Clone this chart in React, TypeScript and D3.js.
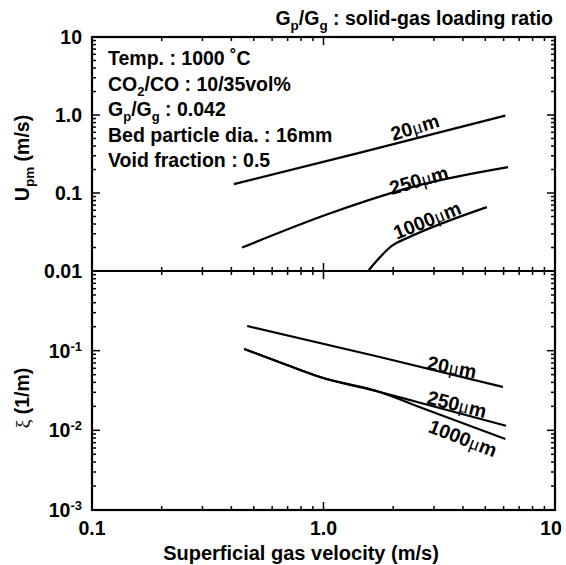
import React from 'react';
import * as d3 from 'd3';

// x axis: superficial gas velocity (m/s)
const xTicks = [0.1, 1, 10];
const xTickLabels = ['0.1', '1.0', '10'];

// upper panel: Upm (m/s)
const upmTicks = [10, 1, 0.1, 0.01];
const upmTickLabels = ['10', '1.0', '0.1', '0.01'];
// lower panel: xi (1/m)
const xiTicks = [0.1, 0.01, 0.001];
const xiTickExp = ['-1', '-2', '-3'];

const sizeLabels = ['20', '250', '1000'];

// Upm curves
const upm20V = [0.41, 1.44, 6.1];
const upm20 = [0.13, 0.33, 0.98];
const upm250V = [0.445, 1.07, 2.61, 6.27];
const upm250 = [0.02, 0.055, 0.127, 0.215];
const upm1000V = [1.57, 2.0, 2.3, 5.08];
const upm1000 = [0.0103, 0.0216, 0.0265, 0.066];

// xi curves
const xi20V = [0.468, 1.75, 5.96];
const xi20 = [0.204, 0.0834, 0.035];
const xi250V = [0.454, 0.695, 0.966, 1.75, 2.61, 6.14];
const xi250 = [0.105, 0.066, 0.0468, 0.0303, 0.0222, 0.0114];
const xi1000V = [0.454, 0.695, 0.966, 1.75, 2.61, 6.1];
const xi1000 = [0.105, 0.066, 0.0468, 0.0303, 0.0195, 0.0078];

// label anchor positions (data coords) and rotation
const upmLabelV = [2.48, 2.58, 2.8];
const upmLabelY = [0.7, 0.147, 0.045];
const upmLabelRot = [-17, -16, -22];
const xiLabelV = [3.59, 3.77, 4.0];
const xiLabelY = [0.0625, 0.0214, 0.008];
const xiLabelRot = [11, 14, 21];

const notes = ['Temp. : 1000 ˚C', 'CO2/CO : 10/35vol%', 'Gp/Gg : 0.042', 'Bed particle dia. : 16mm', 'Void fraction : 0.5'];

const W = 566;
const H = 565;
const LEFT = 92, RIGHT = 555, TOP = 37, MID = 271, BOTTOM = 510;
const FONT = '"Liberation Sans", Arial, Helvetica, sans-serif';

const x = d3.scaleLog().domain([0.1, 10]).range([LEFT, RIGHT]);
const yTop = d3.scaleLog().domain([0.01, 10]).range([MID, TOP]);
const yBot = d3.scaleLog().domain([0.001, 1]).range([BOTTOM, MID]);

const zip = (a: number[], b: number[]) => a.map((v, i) => [v, b[i]] as [number, number]);

const isMajor = (v: number) => Math.abs(Math.log10(v) - Math.round(Math.log10(v))) < 1e-6;

const Mu = ({ n }: { n: string }) => (
  <>
    {n}
    <tspan fontFamily='"Liberation Serif", serif' fontWeight="normal">μ</tspan>m
  </>
);

const renderNote = (s: string) => {
  if (s.startsWith('CO2')) {
    return (<>CO<tspan fontSize={13} dy={5}>2</tspan><tspan dy={-5}>/CO : 10/35vol%</tspan></>);
  }
  if (s.startsWith('Gp/Gg')) {
    return (<>G<tspan fontSize={13} dy={5}>p</tspan><tspan dy={-5}>/G</tspan><tspan fontSize={13} dy={5}>g</tspan><tspan dy={-5}> : 0.042</tspan></>);
  }
  return s;
};

const App = () => {
  const xt = x.ticks();
  const ytT = yTop.ticks();
  const ybT = yBot.ticks();

  const lineTop = d3.line<[number, number]>().x(d => x(d[0])).y(d => yTop(d[1])).curve(d3.curveMonotoneX);
  const lineBot = d3.line<[number, number]>().x(d => x(d[0])).y(d => yBot(d[1])).curve(d3.curveMonotoneX);

  const topSeries = [zip(upm20V, upm20), zip(upm250V, upm250), zip(upm1000V, upm1000)];
  const botSeries = [zip(xi20V, xi20), zip(xi250V, xi250), zip(xi1000V, xi1000)];

  return (
    <svg width={W} height={H} style={{ position: 'absolute', left: 0, top: 0, background: '#fff' }}
      fontFamily={FONT} fontWeight="bold">
      <rect x={0} y={0} width={W} height={H} fill="#fff" />

      {/* title */}
      <text x={553} y={25} fontSize={19.5} textAnchor="end">
        G<tspan fontSize={13.5} dy={5}>p</tspan><tspan dy={-5}>/G</tspan><tspan fontSize={13.5} dy={5}>g</tspan><tspan dy={-5}> : solid-gas loading ratio</tspan>
      </text>

      {/* ticks on x edges */}
      {xt.map((v, i) => {
        const len = isMajor(v) ? 8 : 4;
        return (
          <g key={'xt' + i} stroke="#000" strokeWidth={1.5}>
            <line x1={x(v)} x2={x(v)} y1={TOP} y2={TOP + len} />
            <line x1={x(v)} x2={x(v)} y1={MID - len} y2={MID + len} />
            <line x1={x(v)} x2={x(v)} y1={BOTTOM} y2={BOTTOM - len} />
          </g>
        );
      })}
      {ytT.map((v, i) => {
        const len = isMajor(v) ? 8 : 4;
        return (
          <g key={'yt' + i} stroke="#000" strokeWidth={1.5}>
            <line x1={LEFT} x2={LEFT + len} y1={yTop(v)} y2={yTop(v)} />
            <line x1={RIGHT} x2={RIGHT - len} y1={yTop(v)} y2={yTop(v)} />
          </g>
        );
      })}
      {ybT.map((v, i) => {
        const len = isMajor(v) ? 8 : 4;
        return (
          <g key={'yb' + i} stroke="#000" strokeWidth={1.5}>
            <line x1={LEFT} x2={LEFT + len} y1={yBot(v)} y2={yBot(v)} />
            <line x1={RIGHT} x2={RIGHT - len} y1={yBot(v)} y2={yBot(v)} />
          </g>
        );
      })}

      {/* frames */}
      <rect x={LEFT} y={TOP} width={RIGHT - LEFT} height={BOTTOM - TOP} fill="none" stroke="#000" strokeWidth={2.2} />
      <line x1={LEFT} x2={RIGHT} y1={MID} y2={MID} stroke="#000" strokeWidth={2.2} />

      {/* tick labels */}
      {upmTicks.map((v, i) => (
        <text key={'ul' + i} x={82} y={yTop(v) + 7} fontSize={19.5} textAnchor="end">{upmTickLabels[i]}</text>
      ))}
      {xiTicks.map((v, i) => (
        <text key={'xl' + i} x={82} y={yBot(v) + 7} fontSize={19.5} textAnchor="end">
          10<tspan fontSize={13} dy={-7}>{xiTickExp[i]}</tspan>
        </text>
      ))}
      {xTicks.map((v, i) => (
        <text key={'xtl' + i} x={x(v) - (i === 2 ? 4 : 0)} y={535} fontSize={19.5} textAnchor="middle">{xTickLabels[i]}</text>
      ))}

      {/* axis titles */}
      <text x={301} y={560} fontSize={20} textAnchor="middle">Superficial gas velocity (m/s)</text>
      <text transform="translate(29,158) rotate(-90)" fontSize={19.5} textAnchor="middle">
        U<tspan fontSize={13.5} dy={5}>pm</tspan><tspan dy={-5}> (m/s)</tspan>
      </text>
      <text transform="translate(29,398) rotate(-90)" fontSize={19.5} textAnchor="middle">
        <tspan fontFamily='"Liberation Serif", serif' fontWeight="normal">ξ</tspan> (1/m)
      </text>

      {/* notes */}
      {notes.map((s, i) => (
        <text key={'n' + i} x={108} y={65 + i * 25.5} fontSize={19.5}>{renderNote(s)}</text>
      ))}

      {/* curves */}
      {topSeries.map((s, i) => (
        <path key={'tp' + i} d={lineTop(s) || ''} fill="none" stroke="#000" strokeWidth={2.3} />
      ))}
      {botSeries.map((s, i) => (
        <path key={'bp' + i} d={lineBot(s) || ''} fill="none" stroke="#000" strokeWidth={2.1} />
      ))}

      {/* curve labels */}
      {sizeLabels.map((n, i) => (
        <text key={'tl' + i} fontSize={19.5} textAnchor="middle" dominantBaseline="central"
          transform={`translate(${x(upmLabelV[i])},${yTop(upmLabelY[i])}) rotate(${upmLabelRot[i]})`}>
          <Mu n={n} />
        </text>
      ))}
      {sizeLabels.map((n, i) => (
        <text key={'bl' + i} fontSize={19.5} textAnchor="middle" dominantBaseline="central"
          transform={`translate(${x(xiLabelV[i])},${yBot(xiLabelY[i])}) rotate(${xiLabelRot[i]})`}>
          <Mu n={n} />
        </text>
      ))}
    </svg>
  );
};

export default App;
